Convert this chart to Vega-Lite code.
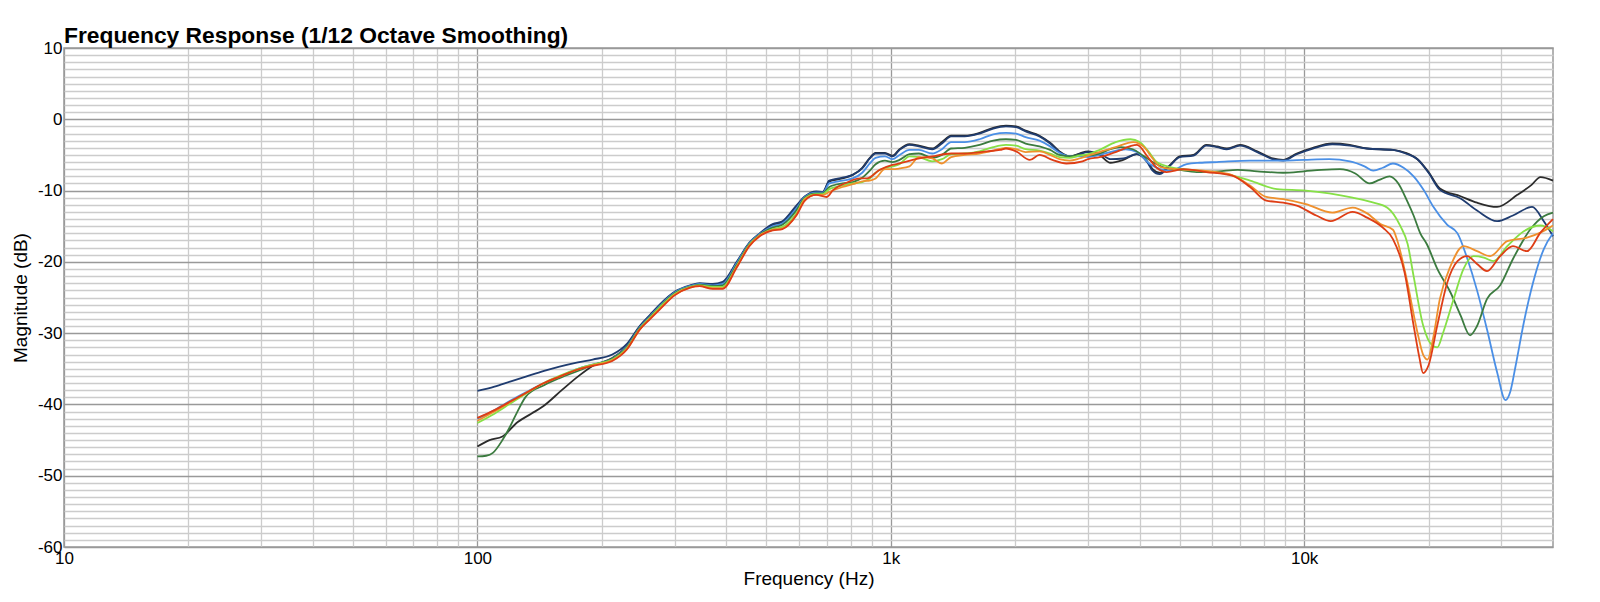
{
"$schema":"https://vega.github.io/schema/vega-lite/v6.json",
"width":1489,"height":499,
"autosize":{"type":"none"},
"padding":{"left":64,"top":48,"right":47,"bottom":55},
"background":"#ffffff",
"config":{"font":"Liberation Sans","view":{"stroke":"#9a9a9a","strokeWidth":1.5}},
"title":{"text":"Frequency Response (1/12 Octave Smoothing)","anchor":"start","frame":"group","fontSize":22.8,"fontWeight":"bold","color":"#000","offset":3,"dy":12,"font":"Liberation Sans"},
"data":{"values":[
{"s":"K","f":100,"db":-45.9},{"s":"K","f":107,"db":-45.0},{"s":"K","f":115,"db":-44.5},{"s":"K","f":125,"db":-42.5},{"s":"K","f":135,"db":-41.3},{"s":"K","f":144,"db":-40.3},{"s":"K","f":160,"db":-38.0},{"s":"K","f":175,"db":-36.1},{"s":"K","f":190,"db":-34.6},{"s":"K","f":212,"db":-33.5},{"s":"K","f":230,"db":-31.8},{"s":"K","f":247,"db":-29.1},{"s":"K","f":262,"db":-27.5},{"s":"K","f":276,"db":-26.1},{"s":"K","f":300,"db":-24.3},{"s":"K","f":327,"db":-23.4},{"s":"K","f":345,"db":-23.1},{"s":"K","f":371,"db":-23.2},{"s":"K","f":392,"db":-23.0},{"s":"K","f":424,"db":-20.1},{"s":"K","f":455,"db":-17.4},{"s":"K","f":482,"db":-16.1},{"s":"K","f":518,"db":-14.8},{"s":"K","f":547,"db":-14.4},{"s":"K","f":591,"db":-12.3},{"s":"K","f":620,"db":-10.9},{"s":"K","f":660,"db":-10.2},{"s":"K","f":685,"db":-10.2},{"s":"K","f":710,"db":-8.7},{"s":"K","f":764,"db":-8.3},{"s":"K","f":809,"db":-7.8},{"s":"K","f":853,"db":-6.8},{"s":"K","f":890,"db":-5.4},{"s":"K","f":919,"db":-4.7},{"s":"K","f":968,"db":-4.7},{"s":"K","f":1010,"db":-5.1},{"s":"K","f":1050,"db":-4.2},{"s":"K","f":1110,"db":-3.5},{"s":"K","f":1170,"db":-3.7},{"s":"K","f":1260,"db":-4.1},{"s":"K","f":1330,"db":-3.2},{"s":"K","f":1400,"db":-2.3},{"s":"K","f":1510,"db":-2.3},{"s":"K","f":1640,"db":-1.9},{"s":"K","f":1770,"db":-1.2},{"s":"K","f":1900,"db":-0.9},{"s":"K","f":2010,"db":-1.0},{"s":"K","f":2120,"db":-1.6},{"s":"K","f":2290,"db":-2.3},{"s":"K","f":2430,"db":-3.3},{"s":"K","f":2560,"db":-4.5},{"s":"K","f":2710,"db":-5.2},{"s":"K","f":2860,"db":-4.8},{"s":"K","f":3000,"db":-4.5},{"s":"K","f":3200,"db":-5.0},{"s":"K","f":3400,"db":-6.1},{"s":"K","f":3650,"db":-5.7},{"s":"K","f":3940,"db":-4.9},{"s":"K","f":4170,"db":-5.9},{"s":"K","f":4300,"db":-7.0},{"s":"K","f":4470,"db":-7.5},{"s":"K","f":4740,"db":-6.4},{"s":"K","f":5000,"db":-5.2},{"s":"K","f":5400,"db":-5.0},{"s":"K","f":5800,"db":-3.6},{"s":"K","f":6150,"db":-3.8},{"s":"K","f":6500,"db":-4.1},{"s":"K","f":7000,"db":-3.6},{"s":"K","f":7700,"db":-4.5},{"s":"K","f":8400,"db":-5.5},{"s":"K","f":8900,"db":-5.7},{"s":"K","f":9600,"db":-4.8},{"s":"K","f":10500,"db":-4.0},{"s":"K","f":11700,"db":-3.4},{"s":"K","f":12900,"db":-3.6},{"s":"K","f":14200,"db":-4.1},{"s":"K","f":16400,"db":-4.3},{"s":"K","f":17600,"db":-4.7},{"s":"K","f":18800,"db":-5.6},{"s":"K","f":20000,"db":-7.4},{"s":"K","f":21300,"db":-9.7},{"s":"K","f":23900,"db":-10.8},{"s":"K","f":26200,"db":-11.7},{"s":"K","f":29300,"db":-12.3},{"s":"K","f":32800,"db":-10.6},{"s":"K","f":35500,"db":-9.2},{"s":"K","f":37300,"db":-8.1},{"s":"K","f":40000,"db":-8.6},
{"s":"N","f":100,"db":-38.1},{"s":"N","f":110,"db":-37.5},{"s":"N","f":120,"db":-36.8},{"s":"N","f":131,"db":-36.1},{"s":"N","f":145,"db":-35.3},{"s":"N","f":158,"db":-34.7},{"s":"N","f":175,"db":-34.1},{"s":"N","f":190,"db":-33.7},{"s":"N","f":212,"db":-33.0},{"s":"N","f":230,"db":-31.5},{"s":"N","f":247,"db":-29.0},{"s":"N","f":262,"db":-27.4},{"s":"N","f":276,"db":-26.0},{"s":"N","f":300,"db":-24.2},{"s":"N","f":327,"db":-23.3},{"s":"N","f":345,"db":-23.0},{"s":"N","f":371,"db":-23.1},{"s":"N","f":392,"db":-22.8},{"s":"N","f":424,"db":-20.0},{"s":"N","f":455,"db":-17.3},{"s":"N","f":482,"db":-16.0},{"s":"N","f":518,"db":-14.7},{"s":"N","f":547,"db":-14.3},{"s":"N","f":591,"db":-12.1},{"s":"N","f":620,"db":-10.8},{"s":"N","f":660,"db":-10.1},{"s":"N","f":685,"db":-10.2},{"s":"N","f":710,"db":-8.6},{"s":"N","f":764,"db":-8.2},{"s":"N","f":809,"db":-7.8},{"s":"N","f":853,"db":-6.9},{"s":"N","f":890,"db":-5.5},{"s":"N","f":919,"db":-4.8},{"s":"N","f":968,"db":-4.8},{"s":"N","f":1010,"db":-5.2},{"s":"N","f":1050,"db":-4.3},{"s":"N","f":1110,"db":-3.6},{"s":"N","f":1170,"db":-3.8},{"s":"N","f":1260,"db":-4.2},{"s":"N","f":1330,"db":-3.4},{"s":"N","f":1400,"db":-2.4},{"s":"N","f":1510,"db":-2.4},{"s":"N","f":1640,"db":-2.0},{"s":"N","f":1770,"db":-1.3},{"s":"N","f":1900,"db":-1.0},{"s":"N","f":2010,"db":-1.1},{"s":"N","f":2120,"db":-1.7},{"s":"N","f":2290,"db":-2.4},{"s":"N","f":2430,"db":-3.4},{"s":"N","f":2560,"db":-4.6},{"s":"N","f":2710,"db":-5.3},{"s":"N","f":2860,"db":-4.9},{"s":"N","f":3000,"db":-4.6},{"s":"N","f":3200,"db":-4.8},{"s":"N","f":3400,"db":-5.6},{"s":"N","f":3650,"db":-5.5},{"s":"N","f":3940,"db":-4.9},{"s":"N","f":4170,"db":-6.0},{"s":"N","f":4300,"db":-7.2},{"s":"N","f":4470,"db":-7.7},{"s":"N","f":4740,"db":-6.5},{"s":"N","f":5000,"db":-5.3},{"s":"N","f":5400,"db":-5.1},{"s":"N","f":5800,"db":-3.7},{"s":"N","f":6150,"db":-3.9},{"s":"N","f":6500,"db":-4.2},{"s":"N","f":7000,"db":-3.7},{"s":"N","f":7700,"db":-4.6},{"s":"N","f":8400,"db":-5.6},{"s":"N","f":8900,"db":-5.8},{"s":"N","f":9600,"db":-4.9},{"s":"N","f":10500,"db":-4.1},{"s":"N","f":11700,"db":-3.5},{"s":"N","f":12900,"db":-3.7},{"s":"N","f":14200,"db":-4.1},{"s":"N","f":16400,"db":-4.3},{"s":"N","f":17600,"db":-4.8},{"s":"N","f":18800,"db":-5.6},{"s":"N","f":20000,"db":-7.5},{"s":"N","f":21300,"db":-9.9},{"s":"N","f":23900,"db":-11.1},{"s":"N","f":26200,"db":-12.8},{"s":"N","f":29300,"db":-14.3},{"s":"N","f":32000,"db":-13.5},{"s":"N","f":35600,"db":-12.3},{"s":"N","f":38000,"db":-14.3},{"s":"N","f":40000,"db":-16.4},
{"s":"B","f":100,"db":-42.0},{"s":"B","f":110,"db":-40.8},{"s":"B","f":120,"db":-39.5},{"s":"B","f":131,"db":-38.3},{"s":"B","f":145,"db":-37.0},{"s":"B","f":158,"db":-36.1},{"s":"B","f":175,"db":-35.0},{"s":"B","f":190,"db":-34.4},{"s":"B","f":212,"db":-33.6},{"s":"B","f":230,"db":-31.9},{"s":"B","f":247,"db":-29.2},{"s":"B","f":262,"db":-27.6},{"s":"B","f":276,"db":-26.2},{"s":"B","f":300,"db":-24.3},{"s":"B","f":327,"db":-23.4},{"s":"B","f":345,"db":-23.1},{"s":"B","f":371,"db":-23.3},{"s":"B","f":392,"db":-23.1},{"s":"B","f":424,"db":-20.2},{"s":"B","f":455,"db":-17.4},{"s":"B","f":482,"db":-16.1},{"s":"B","f":518,"db":-15.0},{"s":"B","f":547,"db":-14.6},{"s":"B","f":591,"db":-12.5},{"s":"B","f":620,"db":-10.9},{"s":"B","f":660,"db":-10.3},{"s":"B","f":685,"db":-10.3},{"s":"B","f":710,"db":-9.0},{"s":"B","f":764,"db":-8.6},{"s":"B","f":809,"db":-8.3},{"s":"B","f":853,"db":-7.5},{"s":"B","f":890,"db":-6.2},{"s":"B","f":919,"db":-5.4},{"s":"B","f":968,"db":-5.2},{"s":"B","f":1010,"db":-5.6},{"s":"B","f":1050,"db":-5.0},{"s":"B","f":1110,"db":-4.3},{"s":"B","f":1170,"db":-4.3},{"s":"B","f":1260,"db":-4.8},{"s":"B","f":1330,"db":-4.2},{"s":"B","f":1400,"db":-3.2},{"s":"B","f":1510,"db":-3.2},{"s":"B","f":1640,"db":-2.8},{"s":"B","f":1770,"db":-2.1},{"s":"B","f":1900,"db":-1.9},{"s":"B","f":2010,"db":-2.0},{"s":"B","f":2120,"db":-2.5},{"s":"B","f":2290,"db":-3.0},{"s":"B","f":2430,"db":-3.8},{"s":"B","f":2560,"db":-4.7},{"s":"B","f":2710,"db":-5.2},{"s":"B","f":2860,"db":-5.2},{"s":"B","f":3000,"db":-5.3},{"s":"B","f":3200,"db":-5.0},{"s":"B","f":3450,"db":-4.5},{"s":"B","f":3700,"db":-4.2},{"s":"B","f":3950,"db":-4.6},{"s":"B","f":4240,"db":-6.3},{"s":"B","f":4740,"db":-7.2},{"s":"B","f":5200,"db":-6.3},{"s":"B","f":5600,"db":-6.1},{"s":"B","f":6150,"db":-6.0},{"s":"B","f":7400,"db":-5.8},{"s":"B","f":8900,"db":-5.8},{"s":"B","f":10000,"db":-5.7},{"s":"B","f":11500,"db":-5.6},{"s":"B","f":12900,"db":-5.9},{"s":"B","f":14000,"db":-6.6},{"s":"B","f":14700,"db":-7.2},{"s":"B","f":15500,"db":-6.8},{"s":"B","f":16400,"db":-6.2},{"s":"B","f":17400,"db":-6.8},{"s":"B","f":18400,"db":-8.0},{"s":"B","f":19500,"db":-10.0},{"s":"B","f":20500,"db":-12.2},{"s":"B","f":22200,"db":-14.8},{"s":"B","f":23500,"db":-16.0},{"s":"B","f":24800,"db":-19.5},{"s":"B","f":26200,"db":-24.0},{"s":"B","f":27700,"db":-29.5},{"s":"B","f":29300,"db":-35.5},{"s":"B","f":30700,"db":-39.4},{"s":"B","f":31500,"db":-38.3},{"s":"B","f":32500,"db":-34.5},{"s":"B","f":34000,"db":-28.5},{"s":"B","f":35800,"db":-22.9},{"s":"B","f":38000,"db":-18.2},{"s":"B","f":40000,"db":-16.0},
{"s":"G","f":100,"db":-47.3},{"s":"G","f":105,"db":-47.2},{"s":"G","f":109,"db":-46.8},{"s":"G","f":115,"db":-45.0},{"s":"G","f":120,"db":-43.1},{"s":"G","f":125,"db":-41.0},{"s":"G","f":131,"db":-38.9},{"s":"G","f":145,"db":-37.3},{"s":"G","f":158,"db":-36.3},{"s":"G","f":175,"db":-35.3},{"s":"G","f":190,"db":-34.5},{"s":"G","f":212,"db":-33.6},{"s":"G","f":230,"db":-32.0},{"s":"G","f":247,"db":-29.3},{"s":"G","f":262,"db":-27.7},{"s":"G","f":276,"db":-26.3},{"s":"G","f":300,"db":-24.4},{"s":"G","f":327,"db":-23.5},{"s":"G","f":345,"db":-23.2},{"s":"G","f":371,"db":-23.4},{"s":"G","f":392,"db":-23.3},{"s":"G","f":424,"db":-20.4},{"s":"G","f":455,"db":-17.5},{"s":"G","f":482,"db":-16.2},{"s":"G","f":518,"db":-15.2},{"s":"G","f":547,"db":-14.8},{"s":"G","f":591,"db":-12.8},{"s":"G","f":620,"db":-11.0},{"s":"G","f":660,"db":-10.4},{"s":"G","f":685,"db":-10.4},{"s":"G","f":710,"db":-9.5},{"s":"G","f":764,"db":-9.0},{"s":"G","f":809,"db":-8.8},{"s":"G","f":853,"db":-8.2},{"s":"G","f":890,"db":-7.2},{"s":"G","f":919,"db":-6.3},{"s":"G","f":968,"db":-5.8},{"s":"G","f":1010,"db":-6.0},{"s":"G","f":1050,"db":-5.7},{"s":"G","f":1110,"db":-4.9},{"s":"G","f":1170,"db":-4.8},{"s":"G","f":1260,"db":-5.4},{"s":"G","f":1330,"db":-5.0},{"s":"G","f":1400,"db":-4.1},{"s":"G","f":1510,"db":-4.0},{"s":"G","f":1640,"db":-3.6},{"s":"G","f":1770,"db":-3.0},{"s":"G","f":1900,"db":-2.8},{"s":"G","f":2010,"db":-2.9},{"s":"G","f":2120,"db":-3.4},{"s":"G","f":2290,"db":-3.8},{"s":"G","f":2430,"db":-4.3},{"s":"G","f":2560,"db":-5.0},{"s":"G","f":2710,"db":-5.2},{"s":"G","f":2860,"db":-5.0},{"s":"G","f":3000,"db":-5.1},{"s":"G","f":3200,"db":-4.8},{"s":"G","f":3400,"db":-4.2},{"s":"G","f":3600,"db":-3.9},{"s":"G","f":3850,"db":-4.2},{"s":"G","f":4080,"db":-5.1},{"s":"G","f":4300,"db":-6.0},{"s":"G","f":4550,"db":-6.7},{"s":"G","f":5000,"db":-7.1},{"s":"G","f":5500,"db":-7.4},{"s":"G","f":6200,"db":-7.3},{"s":"G","f":6900,"db":-7.1},{"s":"G","f":7700,"db":-7.3},{"s":"G","f":8900,"db":-7.5},{"s":"G","f":10000,"db":-7.3},{"s":"G","f":11000,"db":-7.1},{"s":"G","f":12200,"db":-7.0},{"s":"G","f":13300,"db":-7.6},{"s":"G","f":14400,"db":-9.0},{"s":"G","f":15200,"db":-8.5},{"s":"G","f":16100,"db":-8.0},{"s":"G","f":16900,"db":-9.0},{"s":"G","f":17700,"db":-11.3},{"s":"G","f":18400,"db":-13.5},{"s":"G","f":19100,"db":-16.0},{"s":"G","f":19800,"db":-17.5},{"s":"G","f":21000,"db":-21.0},{"s":"G","f":22600,"db":-24.3},{"s":"G","f":23900,"db":-27.5},{"s":"G","f":25200,"db":-30.3},{"s":"G","f":26200,"db":-29.0},{"s":"G","f":27700,"db":-25.2},{"s":"G","f":29800,"db":-23.3},{"s":"G","f":32000,"db":-19.6},{"s":"G","f":35300,"db":-15.4},{"s":"G","f":38000,"db":-13.6},{"s":"G","f":40000,"db":-13.1},
{"s":"L","f":100,"db":-42.6},{"s":"L","f":110,"db":-41.3},{"s":"L","f":120,"db":-39.9},{"s":"L","f":131,"db":-38.5},{"s":"L","f":145,"db":-37.0},{"s":"L","f":158,"db":-36.0},{"s":"L","f":175,"db":-35.0},{"s":"L","f":190,"db":-34.4},{"s":"L","f":212,"db":-33.7},{"s":"L","f":230,"db":-32.1},{"s":"L","f":247,"db":-29.4},{"s":"L","f":262,"db":-27.8},{"s":"L","f":276,"db":-26.4},{"s":"L","f":300,"db":-24.5},{"s":"L","f":327,"db":-23.5},{"s":"L","f":345,"db":-23.3},{"s":"L","f":371,"db":-23.5},{"s":"L","f":392,"db":-23.5},{"s":"L","f":424,"db":-20.6},{"s":"L","f":455,"db":-17.6},{"s":"L","f":482,"db":-16.3},{"s":"L","f":518,"db":-15.4},{"s":"L","f":547,"db":-15.1},{"s":"L","f":591,"db":-13.2},{"s":"L","f":620,"db":-11.1},{"s":"L","f":660,"db":-10.5},{"s":"L","f":685,"db":-10.5},{"s":"L","f":710,"db":-9.8},{"s":"L","f":764,"db":-9.3},{"s":"L","f":809,"db":-9.0},{"s":"L","f":853,"db":-8.8},{"s":"L","f":890,"db":-8.3},{"s":"L","f":919,"db":-7.5},{"s":"L","f":968,"db":-6.8},{"s":"L","f":1010,"db":-6.6},{"s":"L","f":1050,"db":-6.3},{"s":"L","f":1110,"db":-5.2},{"s":"L","f":1170,"db":-5.3},{"s":"L","f":1260,"db":-5.9},{"s":"L","f":1330,"db":-5.6},{"s":"L","f":1400,"db":-4.9},{"s":"L","f":1510,"db":-4.8},{"s":"L","f":1640,"db":-4.5},{"s":"L","f":1770,"db":-3.9},{"s":"L","f":1900,"db":-3.6},{"s":"L","f":2010,"db":-3.7},{"s":"L","f":2120,"db":-4.2},{"s":"L","f":2290,"db":-4.4},{"s":"L","f":2430,"db":-4.8},{"s":"L","f":2560,"db":-5.3},{"s":"L","f":2710,"db":-5.4},{"s":"L","f":2860,"db":-5.1},{"s":"L","f":3000,"db":-4.9},{"s":"L","f":3200,"db":-4.3},{"s":"L","f":3500,"db":-3.2},{"s":"L","f":3800,"db":-2.8},{"s":"L","f":4000,"db":-3.2},{"s":"L","f":4200,"db":-4.5},{"s":"L","f":4400,"db":-6.0},{"s":"L","f":4740,"db":-6.7},{"s":"L","f":5500,"db":-7.2},{"s":"L","f":6500,"db":-7.7},{"s":"L","f":7400,"db":-8.6},{"s":"L","f":8600,"db":-9.8},{"s":"L","f":10100,"db":-10.0},{"s":"L","f":11500,"db":-10.4},{"s":"L","f":13100,"db":-11.0},{"s":"L","f":14500,"db":-11.6},{"s":"L","f":15900,"db":-12.4},{"s":"L","f":17100,"db":-15.0},{"s":"L","f":17800,"db":-17.5},{"s":"L","f":18400,"db":-22.0},{"s":"L","f":19400,"db":-28.9},{"s":"L","f":20400,"db":-31.7},{"s":"L","f":21000,"db":-32.0},{"s":"L","f":21700,"db":-29.9},{"s":"L","f":23000,"db":-25.2},{"s":"L","f":24300,"db":-21.0},{"s":"L","f":25700,"db":-19.2},{"s":"L","f":27200,"db":-19.4},{"s":"L","f":28700,"db":-19.9},{"s":"L","f":31000,"db":-17.8},{"s":"L","f":34000,"db":-15.7},{"s":"L","f":37300,"db":-14.9},{"s":"L","f":40000,"db":-15.7},
{"s":"O","f":100,"db":-42.3},{"s":"O","f":110,"db":-41.0},{"s":"O","f":120,"db":-39.7},{"s":"O","f":131,"db":-38.4},{"s":"O","f":145,"db":-37.0},{"s":"O","f":158,"db":-36.1},{"s":"O","f":175,"db":-35.1},{"s":"O","f":190,"db":-34.5},{"s":"O","f":212,"db":-33.8},{"s":"O","f":230,"db":-32.2},{"s":"O","f":247,"db":-29.5},{"s":"O","f":262,"db":-27.9},{"s":"O","f":276,"db":-26.6},{"s":"O","f":300,"db":-24.6},{"s":"O","f":327,"db":-23.6},{"s":"O","f":345,"db":-23.4},{"s":"O","f":371,"db":-23.7},{"s":"O","f":392,"db":-23.7},{"s":"O","f":424,"db":-20.7},{"s":"O","f":455,"db":-17.7},{"s":"O","f":482,"db":-16.3},{"s":"O","f":518,"db":-15.5},{"s":"O","f":547,"db":-15.3},{"s":"O","f":591,"db":-13.4},{"s":"O","f":620,"db":-11.2},{"s":"O","f":660,"db":-10.6},{"s":"O","f":685,"db":-10.6},{"s":"O","f":710,"db":-10.2},{"s":"O","f":764,"db":-9.5},{"s":"O","f":809,"db":-9.1},{"s":"O","f":853,"db":-8.7},{"s":"O","f":890,"db":-8.6},{"s":"O","f":919,"db":-8.3},{"s":"O","f":968,"db":-7.0},{"s":"O","f":1010,"db":-7.0},{"s":"O","f":1050,"db":-6.9},{"s":"O","f":1110,"db":-6.6},{"s":"O","f":1170,"db":-5.3},{"s":"O","f":1260,"db":-5.5},{"s":"O","f":1330,"db":-6.2},{"s":"O","f":1400,"db":-5.3},{"s":"O","f":1510,"db":-5.0},{"s":"O","f":1640,"db":-4.8},{"s":"O","f":1770,"db":-4.4},{"s":"O","f":1900,"db":-4.0},{"s":"O","f":2010,"db":-4.2},{"s":"O","f":2120,"db":-4.6},{"s":"O","f":2290,"db":-4.5},{"s":"O","f":2430,"db":-5.0},{"s":"O","f":2560,"db":-5.6},{"s":"O","f":2710,"db":-5.8},{"s":"O","f":2860,"db":-5.5},{"s":"O","f":3000,"db":-5.1},{"s":"O","f":3200,"db":-4.6},{"s":"O","f":3500,"db":-3.9},{"s":"O","f":3860,"db":-3.2},{"s":"O","f":4100,"db":-3.9},{"s":"O","f":4300,"db":-5.5},{"s":"O","f":4500,"db":-6.7},{"s":"O","f":4900,"db":-7.0},{"s":"O","f":5700,"db":-7.2},{"s":"O","f":6600,"db":-7.7},{"s":"O","f":7400,"db":-9.3},{"s":"O","f":8100,"db":-10.9},{"s":"O","f":8900,"db":-11.2},{"s":"O","f":10100,"db":-11.9},{"s":"O","f":11700,"db":-13.1},{"s":"O","f":13100,"db":-12.4},{"s":"O","f":14200,"db":-13.2},{"s":"O","f":15300,"db":-14.7},{"s":"O","f":16400,"db":-15.5},{"s":"O","f":16800,"db":-17.0},{"s":"O","f":17700,"db":-22.4},{"s":"O","f":18800,"db":-29.9},{"s":"O","f":19400,"db":-33.0},{"s":"O","f":19900,"db":-33.7},{"s":"O","f":20500,"db":-30.8},{"s":"O","f":21300,"db":-25.2},{"s":"O","f":22600,"db":-20.6},{"s":"O","f":24300,"db":-17.8},{"s":"O","f":26200,"db":-18.5},{"s":"O","f":28200,"db":-19.2},{"s":"O","f":31000,"db":-17.1},{"s":"O","f":34600,"db":-16.6},{"s":"O","f":37300,"db":-15.9},{"s":"O","f":40000,"db":-14.9},
{"s":"R","f":100,"db":-41.9},{"s":"R","f":110,"db":-40.8},{"s":"R","f":120,"db":-39.6},{"s":"R","f":131,"db":-38.4},{"s":"R","f":145,"db":-37.0},{"s":"R","f":158,"db":-36.1},{"s":"R","f":175,"db":-35.1},{"s":"R","f":190,"db":-34.6},{"s":"R","f":212,"db":-33.9},{"s":"R","f":230,"db":-32.3},{"s":"R","f":247,"db":-29.5},{"s":"R","f":262,"db":-28.0},{"s":"R","f":276,"db":-26.7},{"s":"R","f":300,"db":-24.7},{"s":"R","f":327,"db":-23.6},{"s":"R","f":345,"db":-23.4},{"s":"R","f":371,"db":-23.8},{"s":"R","f":392,"db":-23.8},{"s":"R","f":424,"db":-20.8},{"s":"R","f":455,"db":-17.8},{"s":"R","f":482,"db":-16.4},{"s":"R","f":518,"db":-15.6},{"s":"R","f":547,"db":-15.4},{"s":"R","f":591,"db":-13.5},{"s":"R","f":620,"db":-11.4},{"s":"R","f":660,"db":-10.6},{"s":"R","f":700,"db":-10.9},{"s":"R","f":726,"db":-9.9},{"s":"R","f":781,"db":-8.9},{"s":"R","f":843,"db":-8.3},{"s":"R","f":875,"db":-8.3},{"s":"R","f":940,"db":-7.1},{"s":"R","f":1010,"db":-6.4},{"s":"R","f":1050,"db":-6.2},{"s":"R","f":1130,"db":-5.7},{"s":"R","f":1260,"db":-5.2},{"s":"R","f":1400,"db":-4.8},{"s":"R","f":1510,"db":-4.8},{"s":"R","f":1710,"db":-4.5},{"s":"R","f":1840,"db":-4.3},{"s":"R","f":1900,"db":-4.1},{"s":"R","f":2010,"db":-4.5},{"s":"R","f":2170,"db":-5.7},{"s":"R","f":2290,"db":-5.0},{"s":"R","f":2460,"db":-5.7},{"s":"R","f":2660,"db":-6.2},{"s":"R","f":2910,"db":-5.9},{"s":"R","f":3000,"db":-5.6},{"s":"R","f":3200,"db":-5.3},{"s":"R","f":3500,"db":-4.6},{"s":"R","f":3940,"db":-3.6},{"s":"R","f":4200,"db":-5.4},{"s":"R","f":4400,"db":-6.8},{"s":"R","f":4650,"db":-7.4},{"s":"R","f":5100,"db":-7.0},{"s":"R","f":5800,"db":-7.4},{"s":"R","f":6700,"db":-7.9},{"s":"R","f":7400,"db":-9.5},{"s":"R","f":8100,"db":-11.4},{"s":"R","f":8900,"db":-11.7},{"s":"R","f":9600,"db":-12.1},{"s":"R","f":10700,"db":-13.5},{"s":"R","f":11600,"db":-14.3},{"s":"R","f":13100,"db":-13.0},{"s":"R","f":14200,"db":-13.8},{"s":"R","f":15500,"db":-15.2},{"s":"R","f":16400,"db":-16.8},{"s":"R","f":17500,"db":-21.5},{"s":"R","f":18400,"db":-28.9},{"s":"R","f":19000,"db":-33.4},{"s":"R","f":19400,"db":-35.6},{"s":"R","f":20000,"db":-34.5},{"s":"R","f":21000,"db":-28.9},{"s":"R","f":22200,"db":-22.9},{"s":"R","f":23500,"db":-19.9},{"s":"R","f":24800,"db":-19.2},{"s":"R","f":26200,"db":-20.3},{"s":"R","f":27700,"db":-21.3},{"s":"R","f":29800,"db":-19.2},{"s":"R","f":32000,"db":-17.8},{"s":"R","f":34600,"db":-18.5},{"s":"R","f":37300,"db":-15.9},{"s":"R","f":40000,"db":-14.0}
]},
"layer":[
{"mark":{"type":"line","opacity":0},
 "encoding":{
  "x":{"field":"f","type":"quantitative","scale":{"type":"log","domain":[10,40000],"nice":false},
   "axis":{"orient":"top","values":[20,30,40,50,60,70,80,90,200,300,400,500,600,700,800,900,2000,3000,4000,5000,6000,7000,8000,9000,20000,30000],"grid":true,"gridColor":"#cccccc","gridWidth":1.3,"labels":false,"ticks":false,"domain":false,"title":null}},
  "y":{"field":"db","type":"quantitative","scale":{"domain":[-60,10],"nice":false,"zero":false},
   "axis":{"orient":"right","values":[-59,-58,-57,-56,-55,-54,-53,-52,-51,-49,-48,-47,-46,-45,-44,-43,-42,-41,-39,-38,-37,-36,-35,-34,-33,-32,-31,-29,-28,-27,-26,-25,-24,-23,-22,-21,-19,-18,-17,-16,-15,-14,-13,-12,-11,-9,-8,-7,-6,-5,-4,-3,-2,-1,1,2,3,4,5,6,7,8,9],"grid":true,"gridColor":"#cccccc","gridWidth":1.3,"labels":false,"ticks":false,"domain":false,"title":null}},
  "detail":{"field":"s"}
 }},
{"mark":{"type":"line","strokeWidth":1.8,"interpolate":"monotone"},
 "encoding":{
  "x":{"field":"f","type":"quantitative","scale":{"type":"log","domain":[10,40000],"nice":false},
   "axis":{"orient":"bottom","values":[10,100,1000,10000],"labelExpr":"datum.value >= 1000 ? (datum.value/1000) + 'k' : '' + datum.value","grid":true,"gridColor":"#999999","gridWidth":1.3,"ticks":false,"domain":false,"labelFontSize":17,"labelColor":"#000","labelPadding":3,"labelFlush":false,"title":"Frequency (Hz)","titleFontSize":19,"titleFontWeight":"normal","titleColor":"#000","titlePadding":3}},
  "y":{"field":"db","type":"quantitative","scale":{"domain":[-60,10],"nice":false,"zero":false},
   "axis":{"orient":"left","values":[-60,-50,-40,-30,-20,-10,0,10],"labelExpr":"'' + datum.value","grid":true,"gridColor":"#999999","gridWidth":1.3,"ticks":false,"domain":false,"labelFontSize":17,"labelColor":"#000","labelPadding":2,"labelFlush":false,"title":"Magnitude (dB)","titleFontSize":19,"titleFontWeight":"normal","titleColor":"#000","titlePadding":7}},
  "color":{"field":"s","type":"nominal","scale":{"domain":["K","N","B","G","L","O","R"],"range":["#2b2b2b","#1f3c70","#4a8fe6","#3b7b3f","#86e046","#ef902d","#de3d15"]},"legend":null}
 }}
],
"resolve":{"axis":{"x":"independent","y":"independent"}}
}
